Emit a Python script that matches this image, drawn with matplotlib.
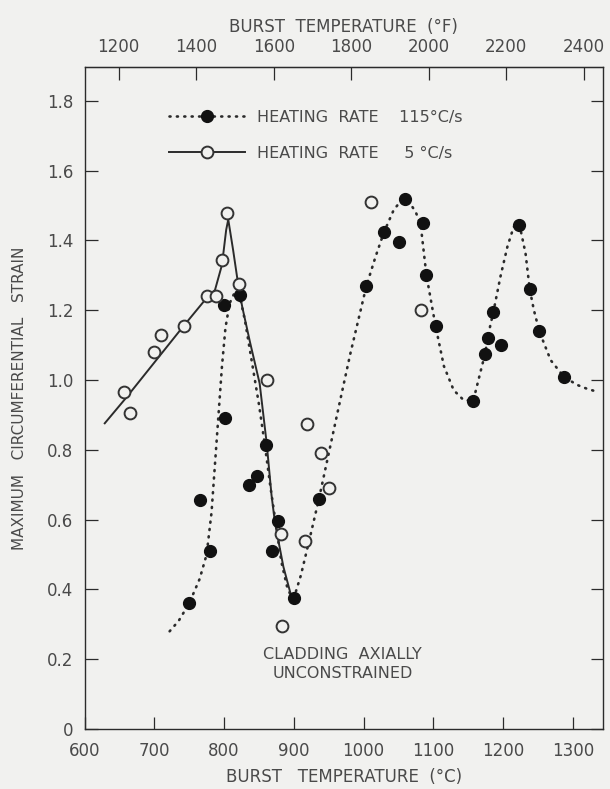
import numpy as np
import matplotlib.pyplot as plt
from matplotlib.lines import Line2D

# 115 C/s heating rate (filled points)
fast_t = [750, 766, 780, 800, 801, 823, 836, 847, 860, 869, 877, 900, 936,
          1004, 1029, 1050, 1059, 1085, 1090, 1103, 1157, 1174, 1178, 1186,
          1197, 1223, 1238, 1252, 1287]
fast_s = [0.36, 0.655, 0.51, 1.215, 0.89, 1.245, 0.70, 0.725, 0.815, 0.51, 0.595,
          0.375, 0.66, 1.27, 1.425, 1.395, 1.52, 1.45, 1.30, 1.155, 0.94,
          1.075, 1.12, 1.195, 1.10, 1.445, 1.26, 1.14, 1.01]

# 5 C/s heating rate (open points)
slow_t = [657, 665, 699, 710, 742, 775, 788, 797, 804, 821, 862, 919, 939,
          950, 916, 881, 883, 1011, 1082]
slow_s = [0.965, 0.905, 1.08, 1.13, 1.155, 1.24, 1.24, 1.345, 1.48, 1.275,
          1.0, 0.875, 0.79, 0.69, 0.54, 0.56, 0.295, 1.51, 1.2]

# curves
fast_curve_t = [722, 735, 750, 765, 775, 782, 787, 792, 797, 802, 808, 815, 822,
                830, 840, 850, 858, 866, 874, 882, 890, 896, 900, 910, 922, 936,
                950, 964, 981, 1004, 1017, 1029, 1043, 1052, 1059, 1067, 1075,
                1082, 1090, 1103, 1115, 1129, 1143, 1157, 1167, 1174, 1179,
                1186, 1196, 1206, 1215, 1223, 1232, 1238, 1244, 1252, 1268,
                1287, 1306, 1320, 1337]
fast_curve_s = [0.28, 0.31, 0.36, 0.43, 0.50, 0.62, 0.76, 0.90, 1.04, 1.15, 1.22,
                1.25, 1.245, 1.17, 1.05, 0.93, 0.82, 0.70, 0.59, 0.48, 0.41,
                0.38, 0.375, 0.44, 0.54, 0.66, 0.79, 0.92, 1.076, 1.27, 1.353,
                1.423, 1.487, 1.51, 1.518, 1.505, 1.48, 1.44, 1.30, 1.155, 1.04,
                0.971, 0.943, 0.94, 1.02, 1.075, 1.134, 1.196, 1.296, 1.382,
                1.439, 1.448, 1.363, 1.26, 1.20, 1.138, 1.057, 1.009, 0.986,
                0.975, 0.965]

slow_curve_t = [629, 660, 700, 740, 775, 787, 797, 803, 806, 813, 820, 826, 837,
                851, 861, 868, 873, 885, 895, 900]
slow_curve_s = [0.876, 0.95, 1.05, 1.15, 1.235, 1.258, 1.33, 1.43, 1.46, 1.372,
                1.277, 1.21, 1.11, 0.99, 0.82, 0.67, 0.59, 0.465, 0.39, 0.375]

yticks = [0, 0.2, 0.4, 0.6, 0.8, 1.0, 1.2, 1.4, 1.6, 1.8]
ytick_labels = ['0', '0.2', '0.4', '0.6', '0.8', '1.0', '1.2', '1.4', '1.6', '1.8']
xticks = [600, 700, 800, 900, 1000, 1100, 1200, 1300]
fticks = [1200, 1400, 1600, 1800, 2000, 2200, 2400]

ink = '#2b2b2b'
txt = '#4a4a4a'
bg = '#f1f1ef'
dots = (0, (0.4, 2.4))

plt.rcParams['font.family'] = 'DejaVu Sans'
fig = plt.figure(figsize=(6.1, 7.89), dpi=100, facecolor=bg)
ax = fig.add_axes([84.5 / 610, 1 - 729 / 789, (603 - 84.5) / 610, (729 - 67) / 789])
ax.set_facecolor(bg)

ax.plot(fast_curve_t, fast_curve_s, color=ink, lw=1.9, linestyle=dots,
        dash_capstyle='round')
ax.plot(slow_curve_t, slow_curve_s, color=ink, lw=1.4)
ax.plot(fast_t, fast_s, 'o', color='#111111', ms=8.5, ls='none')
ax.plot(slow_t, slow_s, 'o', mfc=bg, mec='#333333', mew=1.4, ms=8.5, ls='none')

ax.set_xlim(600, 1343)
ax.set_ylim(0, 1.897)
ax.set_xticks(xticks)
ax.set_yticks(yticks)
ax.set_yticklabels(ytick_labels)
ax.tick_params(direction='in', length=9, width=0.9, color=ink, labelcolor=txt,
               labelsize=12, right=True, pad=9)
ax.tick_params(axis='y', pad=8)
for sp in ax.spines.values():
    sp.set_color(ink)
    sp.set_linewidth(1.0)

top = ax.secondary_xaxis('top', functions=(lambda c: c * 9 / 5 + 32,
                                           lambda f: (f - 32) * 5 / 9))
top.set_xticks(fticks)
top.tick_params(direction='in', length=9, width=0.9, color=ink, labelcolor=txt,
                labelsize=12, pad=8)
top.set_xlabel('BURST  TEMPERATURE  (°F)', fontsize=12, color=txt, labelpad=4)

ax.set_xlabel('BURST   TEMPERATURE  (°C)', fontsize=12, color=txt, labelpad=6)
ax.set_ylabel('MAXIMUM   CIRCUMFERENTIAL   STRAIN', fontsize=11, color=txt,
              labelpad=14)

ax.text(970, 0.186, 'CLADDING  AXIALLY\nUNCONSTRAINED', ha='center', va='center',
        fontsize=11.5, color=txt, linespacing=1.3)

handles = [Line2D([], [], color=ink, lw=1.9, linestyle=dots,
                  dash_capstyle='round', marker='o', ms=8.5, mfc='#111111', mec='#111111'),
           Line2D([], [], color=ink, lw=1.4, marker='o', ms=8.5, mfc=bg,
                  mec='#333333', mew=1.4)]
ax.legend(handles, ['HEATING  RATE    115°C/s', 'HEATING  RATE     5 °C/s'],
          loc='upper left', bbox_to_anchor=(0.15, 0.945), frameon=False,
          fontsize=11.5, handlelength=4.8, handletextpad=0.7, labelspacing=1.3,
          labelcolor=txt, borderaxespad=0)

fig.savefig('out.png', dpi=100, facecolor=bg)
